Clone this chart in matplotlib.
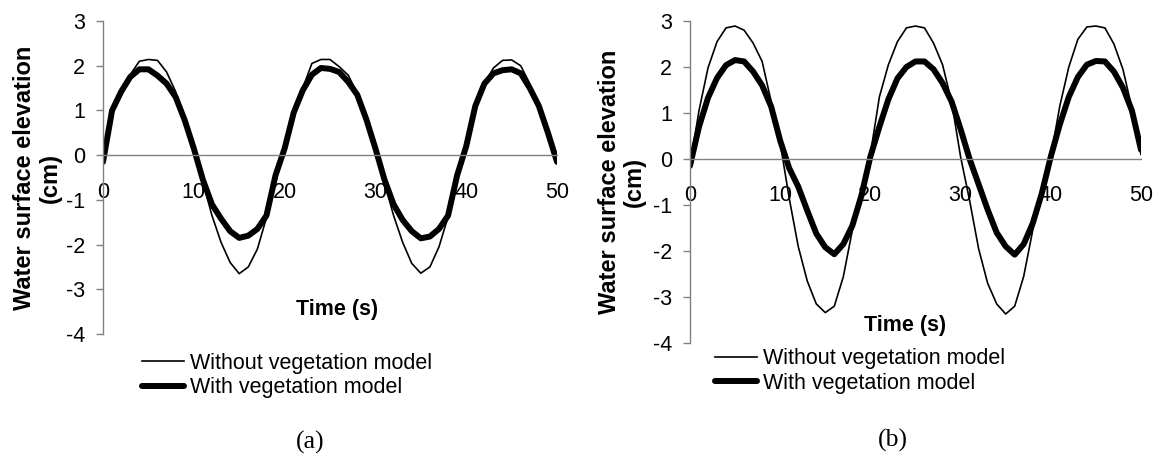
import numpy as np
import matplotlib
matplotlib.use('Agg')
import matplotlib.pyplot as plt

plt.rcParams['font.family'] = ['Liberation Sans', 'DejaVu Sans']
plt.rcParams['axes.unicode_minus'] = False

# time axis (s), one value per second
time_s = list(range(0, 51))

# panel (a) water surface elevation (cm)
a_without = [-0.15, 1.0, 1.45, 1.8, 2.1, 2.14, 2.12, 1.86, 1.42, 0.8, 0.18,
             -0.6, -1.35, -1.95, -2.4, -2.65, -2.5, -2.1, -1.4, -0.5, 0.15,
             0.95, 1.5, 2.05, 2.14, 2.14, 1.98, 1.79, 1.38, 0.8, 0.15,
             -0.62, -1.35, -1.95, -2.42, -2.64, -2.5, -2.05, -1.38, -0.5, 0.2,
             1.1, 1.6, 1.95, 2.12, 2.13, 2.0, 1.6, 1.1, 0.5, -0.15]
a_with = [-0.15, 1.0, 1.42, 1.75, 1.92, 1.92, 1.78, 1.6, 1.3, 0.78, 0.15,
          -0.55, -1.1, -1.42, -1.7, -1.85, -1.8, -1.65, -1.35, -0.45, 0.15,
          0.95, 1.45, 1.8, 1.95, 1.93, 1.86, 1.64, 1.35, 0.8, 0.15,
          -0.55, -1.1, -1.45, -1.7, -1.86, -1.82, -1.65, -1.35, -0.45, 0.2,
          1.1, 1.6, 1.83, 1.9, 1.92, 1.83, 1.5, 1.1, 0.5, -0.15]

# panel (b) water surface elevation (cm)
b_without = [-0.15, 1.05, 1.98, 2.55, 2.85, 2.89, 2.8, 2.52, 2.12, 1.25, 0.35,
             -0.85, -1.9, -2.65, -3.15, -3.34, -3.2, -2.56, -1.55, -0.65, 0.1,
             1.35, 2.05, 2.55, 2.85, 2.89, 2.85, 2.52, 2.05, 1.25, 0.05,
             -0.9, -1.95, -2.7, -3.15, -3.37, -3.2, -2.55, -1.55, -0.7, 0.05,
             1.15, 2.0, 2.6, 2.87, 2.89, 2.85, 2.5, 1.95, 1.1, 0.1]
b_with = [-0.15, 0.7, 1.33, 1.76, 2.04, 2.15, 2.12, 1.9, 1.6, 1.14, 0.4,
          -0.2, -0.6, -1.12, -1.62, -1.92, -2.07, -1.85, -1.45, -0.8, 0.05,
          0.7, 1.3, 1.75, 2.0, 2.12, 2.12, 1.95, 1.65, 1.25, 0.65,
          0.0, -0.55, -1.1, -1.6, -1.9, -2.08, -1.85, -1.4, -0.75, 0.05,
          0.75, 1.35, 1.78, 2.05, 2.13, 2.12, 1.9, 1.55, 1.05, 0.2]

x_ticks = [0, 10, 20, 30, 40, 50]
y_ticks = [-4, -3, -2, -1, 0, 1, 2, 3]
series_labels = ['Without vegetation model', 'With vegetation model']

AXIS_GREY = '#808080'
FONTSIZE = 15.5


def DrawPanel(ax, without, withveg, ylabelX, timeX, timeY):
    ax.plot(time_s, without, color='black', lw=1.2, label=series_labels[0])
    ax.plot(time_s, withveg, color='black', lw=4.3, solid_capstyle='round',
            label=series_labels[1])

    ax.set_xlim(0, 50)
    ax.set_ylim(-4, 3)
    ax.set_xticks(x_ticks)
    ax.set_yticks(y_ticks)

    # x axis sits on the zero line, labels hang below it
    ax.spines['bottom'].set_position(('data', 0))
    ax.spines['top'].set_visible(False)
    ax.spines['right'].set_visible(False)
    for side in ['left', 'bottom']:
        ax.spines[side].set_color(AXIS_GREY)
        ax.spines[side].set_linewidth(1.0)

    ax.tick_params(axis='x', length=0, pad=19, labelsize=FONTSIZE)
    ax.tick_params(axis='y', direction='out', length=5, width=1.0,
                   color=AXIS_GREY, pad=8, labelsize=FONTSIZE)

    ax.set_ylabel('Water surface elevation\n(cm)', fontsize=17,
                  fontweight='bold', linespacing=1.15)
    ax.yaxis.set_label_coords(ylabelX, 0.5)
    ax.text(timeX, timeY, 'Time (s)', transform=ax.transAxes, ha='center',
            va='center', fontsize=FONTSIZE, fontweight='bold')


fig = plt.figure(figsize=(11.6, 4.62), dpi=100)
axA = fig.add_axes([0.0888, 0.277, 0.3914, 0.6775])
axB = fig.add_axes([0.5948, 0.2576, 0.3888, 0.697])

DrawPanel(axA, a_without, a_with, -0.09, 0.515, 0.077)
DrawPanel(axB, b_without, b_with, -0.097, 0.477, 0.053)

for ax, anchorX, anchorY in [(axA, 0.1224, 0.236), (axB, 0.616, 0.246)]:
    ax.legend(loc='upper left', bbox_to_anchor=(anchorX, anchorY),
              bbox_transform=fig.transFigure, frameon=False, borderpad=0,
              borderaxespad=0, fontsize=FONTSIZE, handlelength=1.95,
              handletextpad=0.3, labelspacing=0.15)

fig.text(310 / 1160, 1 - 442 / 462, '(a)', ha='center', va='center',
         fontsize=18.5, family='Liberation Serif')
fig.text(893 / 1160, 1 - 440 / 462, '(b)', ha='center', va='center',
         fontsize=18.5, family='Liberation Serif')

fig.savefig('out.png', dpi=100)
